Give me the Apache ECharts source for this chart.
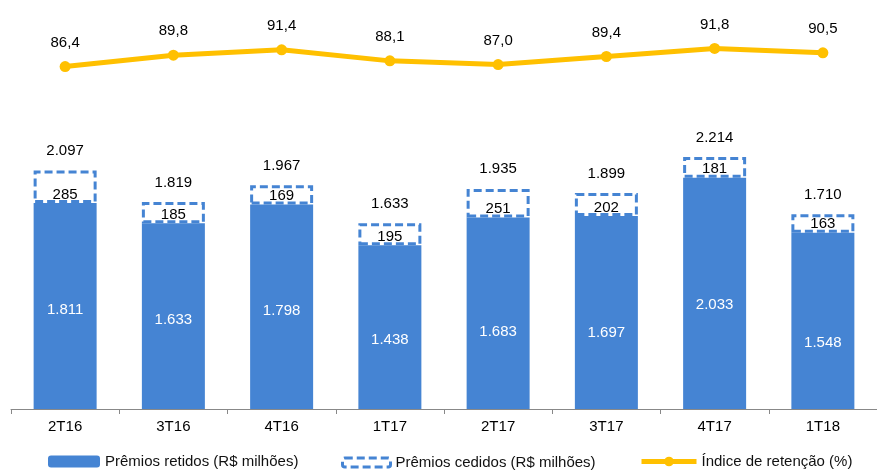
<!DOCTYPE html>
<html>
<head>
<meta charset="utf-8">
<script src="https://cdn.jsdelivr.net/npm/echarts@6/dist/echarts.min.js"></script>
<style>
  html, body { margin: 0; padding: 0; background: #fff; }
  #chart { width: 877px; height: 472px; }
</style>
</head>
<body>
<div id="chart"></div>
<script>
var categories = ['2T16', '3T16', '4T16', '1T17', '2T17', '3T17', '4T17', '1T18'];
var retidos = [1811, 1633, 1798, 1438, 1683, 1697, 2033, 1548];
var cedidos = [285, 185, 169, 195, 251, 202, 181, 163];
var totais = [2097, 1819, 1967, 1633, 1935, 1899, 2214, 1710];
var retencao = [86.4, 89.8, 91.4, 88.1, 87.0, 89.4, 91.8, 90.5];

// deslocamento vertical dos rótulos dentro das barras azuis (como no original)
var deslocRotulo = [4, 4, 4, 13, 19, 20, 12, 22];

function milhar(v) {
    return String(v).replace(/\B(?=(\d{3})+(?!\d))/g, '.');
}

var azul = '#4584D3';
var amarelo = '#FFC000';
var font = 'Liberation Sans, Arial, sans-serif';

var myChart = echarts.init(document.getElementById('chart'));

var retidosData = retidos.map(function (v, i) {
    return { value: v, label: { offset: [0, deslocRotulo[i]] } };
});

var legendText = { fontSize: 15, color: '#111', fontFamily: font };

option = {
    animation: false,
    textStyle: { fontFamily: font },
    legend: [
        {
            data: ['Prêmios retidos (R$ milhões)'],
            left: 48, top: 454, padding: 0,
            itemWidth: 52, itemHeight: 12, itemGap: 6,
            textStyle: legendText
        },
        {
            data: [{
                name: 'Prêmios cedidos (R$ milhões)',
                itemStyle: { color: '#fff', borderColor: azul, borderWidth: 3, borderType: [8, 4] }
            }],
            left: 341, top: 455, padding: 0,
            itemWidth: 48, itemHeight: 9, itemGap: 7,
            textStyle: legendText
        },
        {
            data: [{
                name: 'Índice de retenção (%)',
                lineStyle: { width: 5, color: amarelo },
                itemStyle: { color: amarelo }
            }],
            left: 639, top: 454, padding: 0,
            itemWidth: 55, itemHeight: 12, itemGap: 6,
            textStyle: legendText
        }
    ],
    grid: [
        { left: 11, width: 876, top: 0, height: 409 },
        { left: 11, width: 876, top: 21, height: 67 }
    ],
    xAxis: [
        {
            type: 'category',
            gridIndex: 0,
            data: categories,
            axisLine: { lineStyle: { color: '#888', width: 1 } },
            axisTick: { show: true, length: 5, lineStyle: { color: '#888' } },
            axisLabel: { color: '#000', fontSize: 15, margin: 10 }
        },
        {
            type: 'category',
            gridIndex: 1,
            data: categories,
            show: false
        }
    ],
    yAxis: [
        { type: 'value', gridIndex: 0, min: 0, max: 3594, show: false, splitLine: { show: false } },
        { type: 'value', gridIndex: 1, min: 80, max: 100, show: false, splitLine: { show: false } }
    ],
    series: [
        {
            name: 'Prêmios retidos (R$ milhões)',
            type: 'bar',
            stack: 'premios',
            barWidth: 63,
            data: retidosData,
            itemStyle: { color: azul },
            label: {
                show: true,
                position: 'inside',
                color: '#fff',
                fontSize: 15,
                formatter: function (p) { return milhar(p.value); }
            }
        },
        {
            name: 'Prêmios cedidos (R$ milhões)',
            type: 'bar',
            stack: 'premios',
            barWidth: 63,
            data: cedidos,
            itemStyle: {
                color: '#fff',
                borderColor: azul,
                borderWidth: 3,
                borderType: [8, 4]
            },
            label: {
                show: true,
                position: 'insideBottom',
                distance: 1,
                color: '#000',
                fontSize: 15
            }
        },
        {
            name: 'total',
            type: 'bar',
            barWidth: 63,
            barGap: '-100%',
            z: 1,
            data: totais,
            itemStyle: { color: 'rgba(0,0,0,0)' },
            label: {
                show: true,
                position: 'top',
                distance: 12,
                color: '#000',
                fontSize: 15,
                formatter: function (p) { return milhar(p.value); }
            }
        },
        {
            name: 'Índice de retenção (%)',
            type: 'line',
            xAxisIndex: 1,
            yAxisIndex: 1,
            data: retencao,
            symbol: 'circle',
            symbolSize: 11,
            lineStyle: { color: amarelo, width: 5 },
            itemStyle: { color: amarelo },
            label: {
                show: true,
                position: 'top',
                distance: 11,
                color: '#000',
                fontSize: 15,
                formatter: function (p) { return p.value.toFixed(1).replace('.', ','); }
            }
        }
    ]
};

myChart.setOption(option);
</script>
</body>
</html>
